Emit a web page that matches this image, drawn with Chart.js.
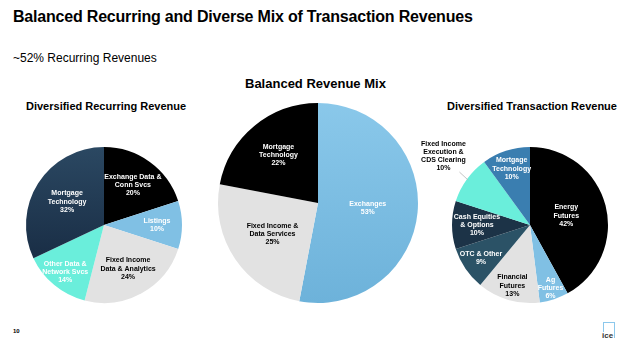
<!DOCTYPE html>
<html>
<head>
<meta charset="utf-8">
<script src="https://cdn.jsdelivr.net/npm/chart.js@4"></script>
<style>
  body { margin: 0; width: 619px; height: 343px; background: #fff; position: relative; overflow: hidden; font-family: 'Liberation Sans', Arial, sans-serif; }
  .txt { position: absolute; white-space: nowrap; color: #000; }
  canvas { position: absolute; }
  #logo { position: absolute; left: 603px; top: 322px; width: 10px; height: 14px; border: 1.5px solid #8cc8ec; }
  #logo span { position: absolute; left: -3px; bottom: -3px; background: #fff; font-size: 8px; font-weight: bold; color: #333; line-height: 8px; padding: 0 1px; }
</style>
</head>
<body>
<div class="txt" style="left:13px;top:8px;font-size:16px;font-weight:bold;letter-spacing:-0.2px;">Balanced Recurring and Diverse Mix of Transaction Revenues</div>
<div class="txt" style="left:13px;top:51px;font-size:12px;">~52% Recurring Revenues</div>
<div class="txt" style="left:245px;top:76px;font-size:13px;font-weight:bold;">Balanced Revenue Mix</div>
<div class="txt" style="left:26px;top:100px;font-size:11px;font-weight:bold;">Diversified Recurring Revenue</div>
<div class="txt" style="left:447px;top:100px;font-size:11px;font-weight:bold;">Diversified Transaction Revenue</div>
<div class="txt" style="left:13px;top:328px;font-size:6px;font-weight:bold;">10</div>
<div id="logo"><span>ice</span></div>

<canvas id="recurring" width="210" height="200" style="left:0;top:120px;"></canvas>
<canvas id="mix" width="215" height="220" style="left:210px;top:95px;"></canvas>
<canvas id="transaction" width="199" height="190" style="left:420px;top:130px;"></canvas>

<script>
// Diversified Recurring Revenue
const recurringLabels = [['Exchange Data &', 'Conn Svcs'], ['Listings'], ['Fixed Income', 'Data & Analytics'], ['Other Data &', 'Network Svcs'], ['Mortgage', 'Technology']];
const recurringValues = [20, 10, 24, 14, 32];

// Balanced Revenue Mix
const mixLabels = [['Exchanges'], ['Fixed Income &', 'Data Services'], ['Mortgage', 'Technology']];
const mixValues = [53, 25, 22];

// Diversified Transaction Revenue
const transactionLabels = [['Energy', 'Futures'], ['Ag', 'Futures'], ['Financial', 'Futures'], ['OTC & Other'], ['Cash Equities', '& Options'], ['Fixed Income', 'Execution &', 'CDS Clearing'], ['Mortgage', 'Technology']];
const transactionValues = [42, 6, 13, 9, 10, 10, 10];

const BLACK = '#000000', LIGHTBLUE = '#80c0e4', GRAY = '#e2e2e2', AQUA = '#6aeedb';

function navyGradient(chart) {
  const area = chart.chartArea;
  if (!area) return '#1c3347';
  const g = chart.ctx.createLinearGradient(0, area.top, 0, area.bottom);
  g.addColorStop(0, '#2b4862');
  g.addColorStop(1, '#12233a');
  return g;
}
function blueGradient(chart) {
  const area = chart.chartArea;
  if (!area) return LIGHTBLUE;
  const g = chart.ctx.createLinearGradient(0, area.top, 0, area.bottom);
  g.addColorStop(0, '#8ac8ea');
  g.addColorStop(1, '#6db2da');
  return g;
}

// draws the slice labels (name lines + percentage)
const sliceLabels = {
  id: 'sliceLabels',
  afterDatasetsDraw(chart, args, opts) {
    const ctx = chart.ctx;
    const meta = chart.getDatasetMeta(0);
    const ds = chart.data.datasets[0];
    ctx.save();
    ctx.font = 'bold 7px "Liberation Sans", Arial, sans-serif';
    ctx.textAlign = 'center';
    ctx.textBaseline = 'middle';
    meta.data.forEach((arc, i) => {
      const mid = (arc.startAngle + arc.endAngle) / 2;
      const r = arc.outerRadius * opts.radius[i];
      let x = arc.x + Math.cos(mid) * r;
      let y = arc.y + Math.sin(mid) * r;
      const lines = chart.data.labels[i].concat([ds.data[i] + '%']);
      if (opts.outside && opts.outside[i]) {
        const o = opts.outside[i];
        x += o.dx; y += o.dy;
        ctx.strokeStyle = '#b5b5b5';
        ctx.lineWidth = 0.8;
        ctx.beginPath();
        ctx.moveTo(x + 16, y + 16);
        ctx.lineTo(arc.x + Math.cos(mid) * arc.outerRadius * 0.98, arc.y + Math.sin(mid) * arc.outerRadius * 0.98);
        ctx.stroke();
      }
      ctx.fillStyle = opts.colors[i];
      const lh = 8.2;
      lines.forEach((t, k) => {
        ctx.fillText(t, x, y + (k - (lines.length - 1) / 2) * lh);
      });
    });
    ctx.restore();
  }
};

function makePie(id, labels, values, colors, padding, labelOpts) {
  return new Chart(document.getElementById(id), {
    type: 'pie',
    data: {
      labels: labels,
      datasets: [{
        data: values,
        backgroundColor: (c) => {
          const col = colors[c.dataIndex];
          return typeof col === 'function' ? col(c.chart) : col;
        },
        borderWidth: 0, hoverOffset: 0, offset: 0
      }]
    },
    options: {
      responsive: false,
      animation: false,
      devicePixelRatio: 1,
      events: [],
      layout: { padding: padding },
      plugins: { legend: { display: false }, tooltip: { enabled: false }, sliceLabels: labelOpts }
    },
    plugins: [sliceLabels]
  });
}

makePie('recurring', recurringLabels, recurringValues,
  [BLACK, LIGHTBLUE, GRAY, AQUA, navyGradient],
  { left: 26, right: 28, top: 27, bottom: 17 },
  { radius: [0.63, 0.68, 0.64, 0.78, 0.56], colors: ['#fff', '#fff', '#000', '#fff', '#fff'] });

makePie('mix', mixLabels, mixValues,
  [blueGradient, GRAY, BLACK],
  { left: 8, right: 7, top: 8, bottom: 12 },
  { radius: [0.5, 0.55, 0.62], colors: ['#fff', '#000', '#fff'] });

makePie('transaction', transactionLabels, transactionValues,
  [BLACK, LIGHTBLUE, GRAY, '#2b5266', '#1c3347', AQUA, '#3a7eb0'],
  { left: 32, right: 11, top: 17, bottom: 17 },
  { radius: [0.48, 0.85, 0.81, 0.76, 0.68, 0.5, 0.76],
    colors: ['#fff', '#fff', '#000', '#fff', '#fff', '#000', '#fff'],
    outside: { 5: { dx: -55, dy: -46 } } });
</script>
</body>
</html>
